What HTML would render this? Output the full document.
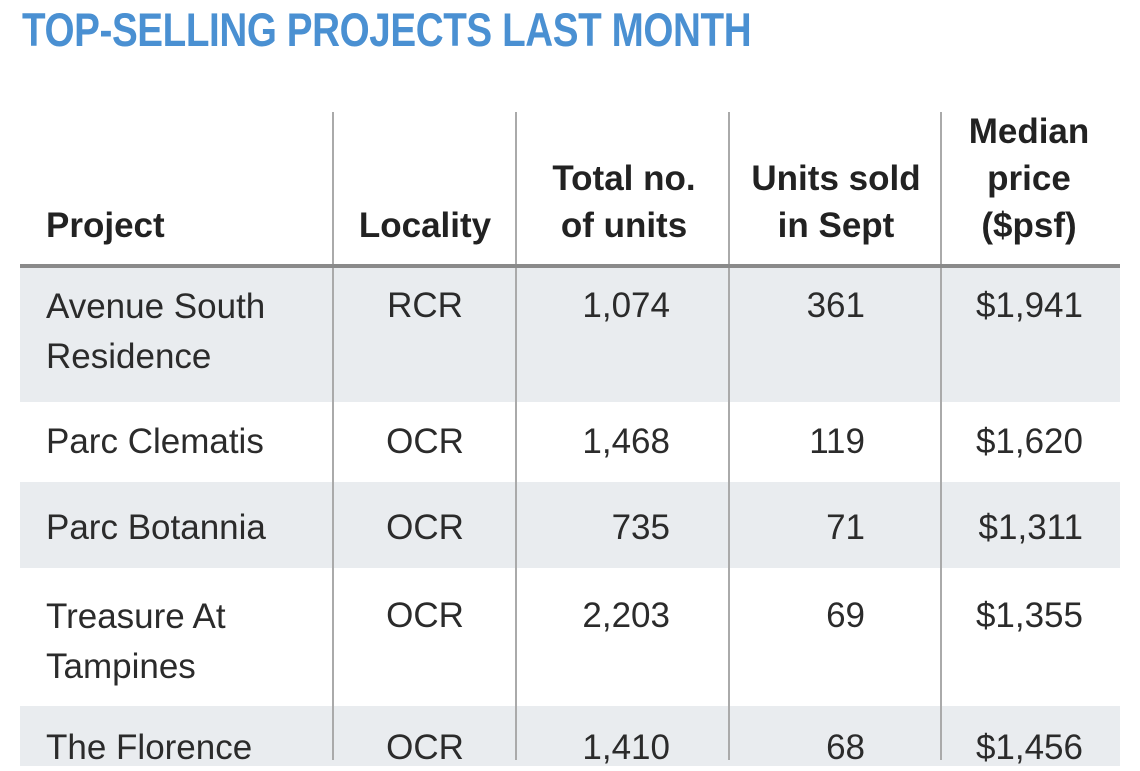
<!DOCTYPE html>
<html><head><meta charset="utf-8"><style>
body{margin:0;width:1140px;height:760px;overflow:hidden;background:#fff;font-family:"Liberation Sans",sans-serif;color:#2a2a2a;position:relative}
.t{position:absolute;left:22px;top:2px;font-size:47px;font-weight:bold;color:#4a90d2;transform:scaleX(0.822);transform-origin:left top;white-space:nowrap;letter-spacing:-0.5px}
.bg{position:absolute;left:20px;width:1100px;background:#e9ecef}
.v{position:absolute;top:112px;bottom:0;width:2px;background:#aaa}
.h{position:absolute;left:20px;width:1100px;top:264px;height:4px;background:#8a8a8a}
.x{position:absolute;font-size:35px;line-height:47px;white-space:nowrap;color:#2b2b2b}
.b{font-weight:bold;color:#222;text-align:center}
.c{text-align:center}.r{text-align:right}
</style></head><body>
<div class="t">TOP-SELLING PROJECTS LAST MONTH</div>
<div class="bg" style="top:268px;height:134px"></div>
<div class="bg" style="top:482px;height:86px"></div>
<div class="bg" style="top:706px;height:60px"></div>
<div class="v" style="left:332px"></div>
<div class="v" style="left:515px"></div>
<div class="v" style="left:728px"></div>
<div class="v" style="left:940px"></div>
<div class="h"></div>

<div class="x b" style="left:46px;top:202px;text-align:left">Project</div>
<div class="x b" style="left:340px;width:170px;top:202px">Locality</div>
<div class="x b" style="left:520px;width:208px;top:155px">Total no.<br>of units</div>
<div class="x b" style="left:732px;width:208px;top:155px">Units sold<br>in Sept</div>
<div class="x b" style="left:944px;width:170px;top:108px">Median<br>price<br>($psf)</div>

<div class="x" style="left:46px;top:282px;line-height:50px">Avenue South<br>Residence</div>
<div class="x c" style="left:335px;width:180px;top:282px">RCR</div>
<div class="x r" style="left:520px;width:150px;top:282px">1,074</div>
<div class="x r" style="left:732px;width:133px;top:282px">361</div>
<div class="x r" style="left:944px;width:139px;top:282px">$1,941</div>

<div class="x" style="left:46px;top:418px">Parc Clematis</div>
<div class="x c" style="left:335px;width:180px;top:418px">OCR</div>
<div class="x r" style="left:520px;width:150px;top:418px">1,468</div>
<div class="x r" style="left:732px;width:133px;top:418px">119</div>
<div class="x r" style="left:944px;width:139px;top:418px">$1,620</div>

<div class="x" style="left:46px;top:504px">Parc Botannia</div>
<div class="x c" style="left:335px;width:180px;top:504px">OCR</div>
<div class="x r" style="left:520px;width:150px;top:504px">735</div>
<div class="x r" style="left:732px;width:133px;top:504px">71</div>
<div class="x r" style="left:944px;width:139px;top:504px">$1,311</div>

<div class="x" style="left:46px;top:592px;line-height:50px">Treasure At<br>Tampines</div>
<div class="x c" style="left:335px;width:180px;top:592px">OCR</div>
<div class="x r" style="left:520px;width:150px;top:592px">2,203</div>
<div class="x r" style="left:732px;width:133px;top:592px">69</div>
<div class="x r" style="left:944px;width:139px;top:592px">$1,355</div>

<div class="x" style="left:46px;top:724px">The Florence</div>
<div class="x c" style="left:335px;width:180px;top:724px">OCR</div>
<div class="x r" style="left:520px;width:150px;top:724px">1,410</div>
<div class="x r" style="left:732px;width:133px;top:724px">68</div>
<div class="x r" style="left:944px;width:139px;top:724px">$1,456</div>
</body></html>
